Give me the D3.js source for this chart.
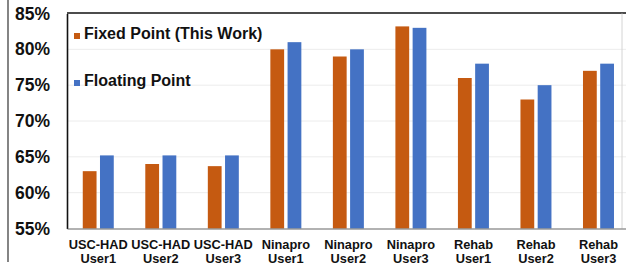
<!DOCTYPE html>
<html>
<head>
<meta charset="utf-8">
<script src="https://cdn.jsdelivr.net/npm/d3@7"></script>
<style>
  body { margin: 0; background: #fff; }
  text { font-family: "Liberation Sans", Arial, sans-serif; font-weight: bold; }
</style>
</head>
<body>
<div id="chart"></div>
<script>
// Data
const categories = [
    ["USC-HAD", "User1"], ["USC-HAD", "User2"], ["USC-HAD", "User3"],
    ["Ninapro", "User1"], ["Ninapro", "User2"], ["Ninapro", "User3"],
    ["Rehab", "User1"], ["Rehab", "User2"], ["Rehab", "User3"]
];
const seriesNames = ["Fixed Point (This Work)", "Floating Point"];
const fixedPoint = [0.63, 0.64, 0.637, 0.80, 0.79, 0.832, 0.76, 0.73, 0.77];
const floatingPoint = [0.652, 0.652, 0.652, 0.81, 0.80, 0.83, 0.78, 0.75, 0.78];
const yTicks = [0.55, 0.60, 0.65, 0.70, 0.75, 0.80, 0.85];
const colors = ["#C55A11", "#4472C4"];

const W = 626, H = 271;
const plot = { left: 67, top: 13.5, bottom: 228.5, right: 629.75 };

const svg = d3.select("#chart").append("svg")
    .attr("width", W)
    .attr("height", H);

// Scales
const keys = categories.map(c => c.join(" "));
const x = d3.scaleBand()
    .domain(keys)
    .range([plot.left, plot.right])
    .padding(0);

const xSub = d3.scaleBand()
    .domain(seriesNames)
    .range([-15.5, 15.5])
    .paddingInner(0.2);

const y = d3.scaleLinear()
    .domain([0.55, 0.85])
    .range([plot.bottom, plot.top]);

// Grid lines
svg.append("g")
    .selectAll("line")
    .data(yTicks.filter(t => t > 0.55 && t < 0.85))
    .join("line")
    .attr("x1", plot.left)
    .attr("x2", W)
    .attr("y1", d => y(d))
    .attr("y2", d => y(d))
    .attr("stroke", "#ececec")
    .attr("stroke-width", 1);

// Bars
const table = keys.map((k, i) => ({ key: k, values: [fixedPoint[i], floatingPoint[i]] }));
const groups = svg.append("g")
    .selectAll("g")
    .data(table)
    .join("g")
    .attr("transform", d => `translate(${x(d.key) + x.bandwidth() / 2},0)`);

groups.selectAll("rect")
    .data(d => d.values.map((v, j) => ({ name: seriesNames[j], value: v, j })))
    .join("rect")
    .attr("x", d => xSub(d.name))
    .attr("width", xSub.bandwidth())
    .attr("y", d => y(d.value))
    .attr("height", d => y(0.55) - y(d.value))
    .attr("fill", d => colors[d.j]);

// Frame lines
svg.append("line")
    .attr("x1", 8).attr("x2", 8).attr("y1", 0).attr("y2", 262)
    .attr("stroke", "#333").attr("stroke-width", 1.2);
svg.append("line")
    .attr("x1", plot.left).attr("x2", W).attr("y1", plot.top - 0.5).attr("y2", plot.top - 0.5)
    .attr("stroke", "#111").attr("stroke-width", 1.6);
svg.append("line")
    .attr("x1", 622).attr("x2", 622).attr("y1", plot.top).attr("y2", plot.bottom)
    .attr("stroke", "#d4d4d4").attr("stroke-width", 1);

// Y axis
const yAxis = svg.append("g")
    .attr("transform", `translate(${plot.left},0)`)
    .call(d3.axisLeft(y).tickValues(yTicks).tickFormat(d3.format(".0%")).tickSize(0).tickPadding(17));
yAxis.select(".domain").attr("stroke", "#111").attr("stroke-width", 1.6);
yAxis.selectAll("text")
    .attr("font-size", "17.5px")
    .attr("font-weight", "bold")
    .attr("font-family", "'Liberation Sans', Arial, sans-serif")
    .attr("fill", "#111");

// X axis
const xAxis = svg.append("g")
    .attr("transform", `translate(0,${plot.bottom})`)
    .call(d3.axisBottom(x).tickSize(0).tickFormat(""));
xAxis.select(".domain").attr("stroke", "#666").attr("stroke-width", 1.2);

xAxis.selectAll(".tick")
    .append("text")
    .attr("fill", "#111")
    .attr("font-size", "12.8px")
    .attr("text-anchor", "middle")
    .selectAll("tspan")
    .data((d, i) => categories[i])
    .join("tspan")
    .attr("x", 0)
    .attr("y", (d, i) => 20.5 + i * 13.5)
    .text(d => d);

// Legend
const legend = svg.append("g")
    .attr("transform", "translate(74,0)");
const legendY = [39, 86];
seriesNames.forEach((name, i) => {
    legend.append("rect")
        .attr("x", 0)
        .attr("y", legendY[i] - 6)
        .attr("width", 6)
        .attr("height", 6)
        .attr("fill", colors[i]);
    legend.append("text")
        .attr("x", 10)
        .attr("y", legendY[i])
        .attr("font-size", "16px")
        .attr("fill", "#111")
        .text(name);
});
</script>
</body>
</html>
